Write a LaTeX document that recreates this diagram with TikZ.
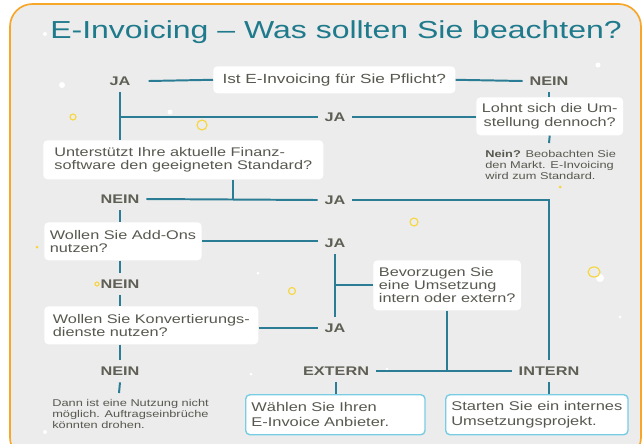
\documentclass[tikz,border=0pt]{standalone}
\usepackage{fontspec}
\setmainfont{Liberation Sans}[FakeStretch=1.3]
\definecolor{EiPanel}{RGB}{236,236,236}
\definecolor{EiOrange}{RGB}{247,166,40}
\definecolor{EiTeal}{RGB}{42,125,148}
\definecolor{EiTitle}{RGB}{31,122,140}
\definecolor{EiText}{RGB}{88,88,80}
\definecolor{EiLabel}{RGB}{95,95,85}
\definecolor{EiYellow}{RGB}{247,214,60}
\definecolor{EiCyan}{RGB}{120,205,228}
\usetikzlibrary{calc}

\begin{document}
\begin{tikzpicture}[
    x=0.025cm, y=-0.025cm,
    box/.style={rectangle, rounded corners=3pt, fill=white, inner xsep=4pt, inner ysep=0pt, anchor=north west, align=left, text=EiText, font=\fontsize{8.9}{9.3}\selectfont},
    endbox/.style={box, draw=EiCyan, line width=1pt, font=\fontsize{9}{10.6}\selectfont},
    lbl/.style={inner sep=0pt, outer sep=5pt, text=EiLabel, font=\bfseries\fontsize{8.9}{10}\selectfont},
    note/.style={inner sep=0pt, anchor=north west, align=left, text=EiText, font=\fontsize{7}{8}\selectfont},
    conn/.style={draw=EiTeal, line width=1.4pt},
    ring/.style={draw=EiYellow, line width=0.8pt},
    speck/.style={fill=white}
]
    \clip (0,0) rectangle (642,443);
    \draw[EiOrange, line width=1.2pt, fill=EiPanel, rounded corners=16pt] (10,4) rectangle (641,460);

    % decoration
    \draw[ring] (73,117) circle (3);
    \draw[ring] (202,125) circle (5);
    \draw[ring] (97,284) circle (2);
    \draw[ring] (292,291) circle (3.5);
    \draw[ring] (414,222) circle (4);
    \fill[speck] (600,278) circle (4);
    \draw[ring] (594,272) ellipse (6 and 5);
    \fill[EiYellow] (37,247) circle (1.5);
    \fill[EiYellow] (560,187) circle (1.5);
    \fill[speck] (45,34) circle (2);
    \fill[speck] (62,85) circle (3);
    \fill[speck] (170,112) circle (2.5);
    \fill[speck] (598,65) circle (2.5);
    \fill[speck] (45,432) circle (2);
    \fill[speck] (251,374) circle (1.5);
    \fill[speck] (387,369) circle (1.5);
    \fill[speck] (258,273) circle (1.5);
    \fill[speck] (620,317) circle (1.5);

    \node[text=EiTitle, font=\fontsize{17.5}{20}\selectfont, inner sep=0pt] (title) at (336,32) {E-Invoicing -- Was sollten Sie beachten?};

    % questions
    \node[box, font=\fontsize{9.4}{10}\selectfont, minimum width=6.05cm, minimum height=0.675cm] (ask) at (213,66) {Ist E-Invoicing für Sie Pflicht?};
    \node[box, align=center, minimum width=3.65cm, minimum height=0.95cm] (lohnt) at (476,97) {Lohnt sich die Um-\\stellung dennoch?};
    \node[box, minimum width=7cm, minimum height=0.975cm] (finanz) at (43,140) {Unterstützt Ihre aktuelle Finanz-\\software den geeigneten Standard?};
    \node[box, minimum width=3.85cm, minimum height=0.95cm] (addons) at (44,222) {Wollen Sie Add-Ons\\nutzen?};
    \node[box, minimum width=3.625cm, minimum height=1.25cm] (bevorz) at (373,260) {Bevorzugen Sie\\eine Umsetzung\\intern oder extern?};
    \node[box, minimum width=5.35cm, minimum height=0.95cm] (konv) at (44,306) {Wollen Sie Konvertierungs-\\dienste nutzen?};
    \node[endbox, text width=4.2cm, minimum height=1cm] (wahl) at (245,394) {Wählen Sie Ihren\\E-Invoice Anbieter.};
    \node[endbox, minimum width=4.55cm, minimum height=1cm] (start) at (445,394) {Starten Sie ein internes\\Umsetzungsprojekt.};

    % answers
    \node[lbl] (ja1) at (120,81) {JA};
    \node[lbl] (nein1) at (549,81) {NEIN};
    \node[lbl] (ja2) at (335,117) {JA};
    \node[lbl] (nein2) at (120,199) {NEIN};
    \node[lbl] (ja3) at (335,200) {JA};
    \node[lbl] (ja4) at (335,243) {JA};
    \node[lbl] (nein3) at (120,284) {NEIN};
    \node[lbl] (ja5) at (335,328) {JA};
    \node[lbl] (nein4) at (120,371) {NEIN};
    \node[lbl] (extern) at (336,371) {EXTERN};
    \node[lbl] (intern) at (549,371) {INTERN};

    \node[note] (note1) at (485,150) {\textbf{Nein?} Beobachten Sie\\den Markt. E-Invoicing\\wird zum Standard.};
    \node[note] (note2) at (52,399) {Dann ist eine Nutzung nicht\\möglich. Auftragseinbrüche\\könnten drohen.};
    \coordinate (n1top) at (549,143);
    \coordinate (n2top) at (119,393);
    \coordinate (fj) at (233,199);

    \draw[conn] ([xshift=8pt]ja1.east) -- (ask.west);
    \draw[conn] (ask.east) -- (nein1.west);
    \draw[conn] (nein1.south) -- (lohnt.north -| nein1.south);
    \draw[conn] (lohnt.west |- ja2) -- (ja2.east);
    \draw[conn] (ja1.south) -- (finanz.north -| ja1.south);
    \draw[conn] (ja2.west) -- (ja2.west -| ja1.south);
    \draw[conn] (lohnt.south) -- (n1top);
    \draw[conn] (finanz.south -| fj) -- (fj);
    \draw[conn] (nein2.east) -- (ja3.west);
    \draw[conn] (ja3.east) -| (intern.north);
    \draw[conn] (nein2.south) -- (addons.north -| nein2.south);
    \draw[conn] (addons.east) -- (addons.east -| ja4.west);
    \draw[conn] (addons.south -| nein3.north) -- (nein3.north);
    \draw[conn] (nein3.south) -- (konv.north -| nein3.south);
    \draw[conn] (ja5.west -| konv.east) -- (ja5.west);
    \draw[conn] (ja4.south) -- (ja5.north);
    \draw[conn] (ja4.south |- bevorz.west) -- (bevorz.west);
    \draw[conn] (bevorz.south) -- (bevorz.south |- extern.east);
    \draw[conn] (extern.east) -- (intern.west);
    \draw[conn] (konv.south -| nein4.north) -- (nein4.north);
    \draw[conn] (nein4.south) -- (n2top);
    \draw[conn] (extern.south) -- (wahl.north -| extern.south);
    \draw[conn] (intern.south) -- (start.north -| intern.south);
\end{tikzpicture}
\end{document}
